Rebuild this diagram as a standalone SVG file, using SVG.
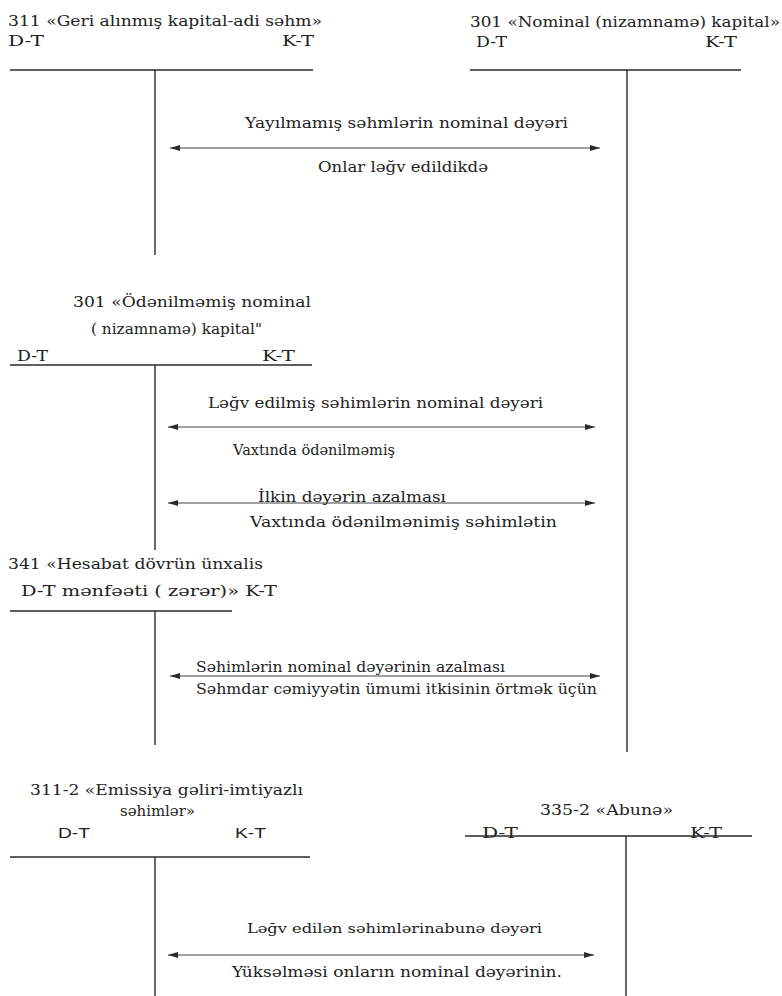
<svg xmlns="http://www.w3.org/2000/svg" width="782" height="996" viewBox="0 0 782 996">
<defs>
<marker id="ah" viewBox="0 0 10 6" refX="10" refY="3" markerWidth="10" markerHeight="6" markerUnits="userSpaceOnUse" orient="auto-start-reverse">
<path d="M0,0 L10,3 L0,6 Z" fill="#2a2a2a"/>
</marker>
<style>
text{font-family:"DejaVu Serif","Liberation Serif",serif;font-size:15px;fill:#222}
.s{font-family:"Liberation Sans",Arial,sans-serif;font-size:15px}
.sm{font-size:13px}
.ln{stroke:#2a2a2a;stroke-width:1.4;fill:none}
.ar{stroke:#444;stroke-width:1.2;fill:none;marker-start:url(#ah);marker-end:url(#ah)}
</style>
</defs>
<rect width="782" height="996" fill="#fff"/>

<g id="acc311">
<text x="8" y="26" textLength="314" lengthAdjust="spacingAndGlyphs">311 «Geri alınmış kapital-adi səhm»</text>
<text x="8" y="46" textLength="36" lengthAdjust="spacingAndGlyphs">D-T</text>
<text x="282" y="46" textLength="32" lengthAdjust="spacingAndGlyphs">K-T</text>
<line class="ln" x1="10" y1="70" x2="313" y2="70"/>
<line class="ln" x1="155" y1="70" x2="155" y2="255"/>
</g>

<g id="acc301nom">
<text x="470" y="27" textLength="310" lengthAdjust="spacingAndGlyphs">301 «Nominal (nizamnamə) kapital»</text>
<text x="476" y="47" textLength="31" lengthAdjust="spacingAndGlyphs">D-T</text>
<text x="705" y="47" textLength="32" lengthAdjust="spacingAndGlyphs">K-T</text>
<line class="ln" x1="470" y1="70" x2="741" y2="70"/>
<line class="ln" x1="627" y1="70" x2="627" y2="752"/>
</g>

<g id="acc301unpaid">
<text x="73" y="307" textLength="238" lengthAdjust="spacingAndGlyphs">301  «Ödənilməmiş nominal</text>
<text x="91" y="334" textLength="171" lengthAdjust="spacingAndGlyphs">( nizamnamə) kapital"</text>
<text x="17" y="361" textLength="31" lengthAdjust="spacingAndGlyphs">D-T</text>
<text x="262" y="361" textLength="33" lengthAdjust="spacingAndGlyphs">K-T</text>
<line class="ln" x1="10" y1="365" x2="312" y2="365"/>
<line class="ln" x1="155" y1="365" x2="155" y2="550"/>
</g>

<g id="acc341">
<text x="8" y="569" textLength="255" lengthAdjust="spacingAndGlyphs">341 «Hesabat dövrün ünxalis</text>
<text x="21" y="596" textLength="256" lengthAdjust="spacingAndGlyphs">D-T   mənfəəti ( zərər)»   K-T</text>
<line class="ln" x1="10" y1="611" x2="232" y2="611"/>
<line class="ln" x1="155" y1="611" x2="155" y2="745"/>
</g>

<g id="acc311-2">
<text x="30" y="795" textLength="273" lengthAdjust="spacingAndGlyphs">311-2 «Emissiya gəliri-imtiyazlı</text>
<text x="120" y="816" textLength="75" lengthAdjust="spacingAndGlyphs">səhimlər»</text>
<text class="s" x="58" y="838" textLength="32" lengthAdjust="spacingAndGlyphs">D-T</text>
<text class="s" x="235" y="838" textLength="31" lengthAdjust="spacingAndGlyphs">K-T</text>
<line class="ln" x1="10" y1="857" x2="310" y2="857"/>
<line class="ln" x1="155" y1="857" x2="155" y2="996"/>
</g>

<g id="acc335-2">
<text x="540" y="815" textLength="133" lengthAdjust="spacingAndGlyphs">335-2 «Abunə»</text>
<text x="482" y="838" textLength="36" lengthAdjust="spacingAndGlyphs">D-T</text>
<text x="690" y="838" textLength="32" lengthAdjust="spacingAndGlyphs">K-T</text>
<line class="ln" x1="465" y1="836" x2="752" y2="836"/>
<line class="ln" x1="626" y1="836" x2="626" y2="996"/>
</g>

<g id="connectors">
<line class="ar" x1="170" y1="148" x2="600" y2="148"/>
<line class="ar" x1="168" y1="427" x2="595" y2="427"/>
<line class="ar" x1="168" y1="503" x2="595" y2="503"/>
<line class="ar" x1="170" y1="676" x2="600" y2="676"/>
<line class="ar" x1="168" y1="955" x2="594" y2="955"/>
</g>

<g id="labels">
<text x="245" y="128" textLength="323" lengthAdjust="spacingAndGlyphs">Yayılmamış səhmlərin nominal dəyəri</text>
<text x="318" y="172" textLength="170" lengthAdjust="spacingAndGlyphs">Onlar ləğv edildikdə</text>
<text x="208" y="408" textLength="335" lengthAdjust="spacingAndGlyphs">Ləğv edilmiş səhimlərin nominal dəyəri</text>
<text x="233" y="455" textLength="162" lengthAdjust="spacingAndGlyphs">Vaxtında ödənilməmiş</text>
<text x="258" y="502" textLength="188" lengthAdjust="spacingAndGlyphs">İlkin dəyərin azalması</text>
<text x="250" y="527" textLength="307" lengthAdjust="spacingAndGlyphs">Vaxtında ödənilmənimiş səhimlətin</text>
<text x="196" y="672" textLength="309" lengthAdjust="spacingAndGlyphs">Səhimlərin  nominal dəyərinin azalması</text>
<text x="196" y="694" textLength="401" lengthAdjust="spacingAndGlyphs">Səhmdar cəmiyyətin ümumi itkisinin örtmək üçün</text>
<text class="sm" x="247" y="933" textLength="295" lengthAdjust="spacingAndGlyphs">Ləğv edilən səhimlərinabunə dəyəri</text>
<text x="232" y="977" textLength="330" lengthAdjust="spacingAndGlyphs">Yüksəlməsi onların nominal dəyərinin.</text>
</g>
</svg>
